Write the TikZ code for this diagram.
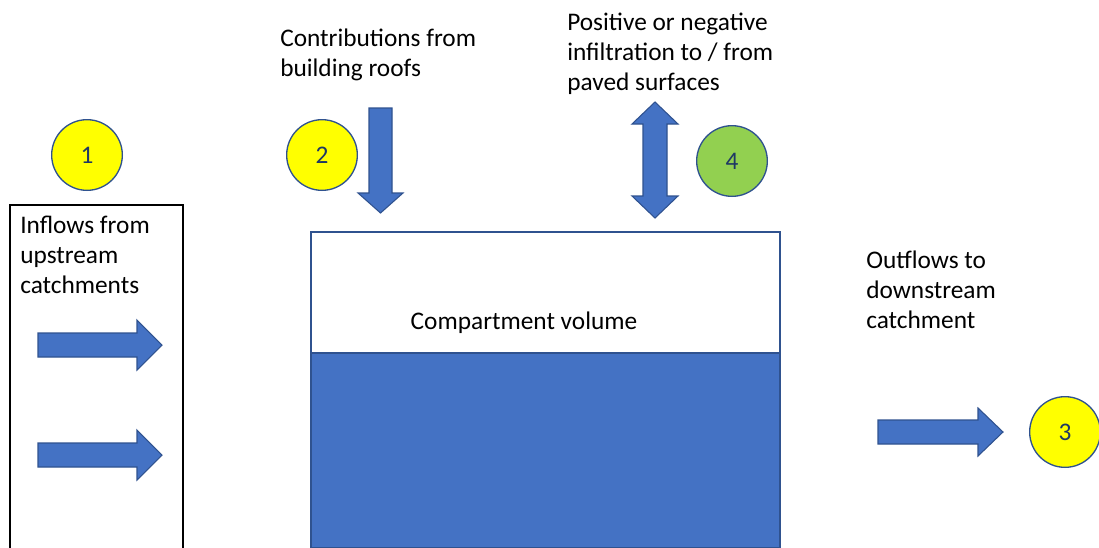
\documentclass[tikz,border=0pt]{standalone}
\usepackage{fontspec}
\setmainfont{Carlito}
\usepackage{xcolor}
\usetikzlibrary{positioning}
\definecolor{fillblue}{HTML}{4472C4}
\definecolor{edgeblue}{HTML}{2F528F}
\definecolor{numblue}{HTML}{1F3864}
\definecolor{leafgreen}{HTML}{92D050}
\definecolor{lemon}{HTML}{FFFF00}

\begin{document}
\begin{tikzpicture}[x=0.75pt, y=-0.75pt,
  every node/.style={font=\fontsize{19}{22.5}\selectfont},
  labeltext/.style={align=left, anchor=base west, inner sep=0pt},
  numcircle/.style={circle, draw=edgeblue, line width=1pt, minimum size=53pt,
    text=numblue, inner sep=0pt},
  blockarrow/.style={fill=fillblue, draw=edgeblue, line width=0.8pt, line join=miter}]
\useasboundingbox (0,0) rectangle (1099,547);

% Compartment
\filldraw[fill=white, draw=edgeblue, line width=1.2pt] (311,232) rectangle (780,353);
\filldraw[fill=fillblue, draw=edgeblue, line width=1.2pt] (311,353) rectangle (780,548);
\node[anchor=base, inner sep=0pt] (volume) at (524,329) {Compartment volume};

% Upstream catchments (base = last line)
\draw[line width=1.1pt] (10,548) -- (10,205) -- (183,205) -- (183,548);
\node[labeltext] (inflows) at (20,293) {Inflows from\\upstream\\catchments};
\draw[blockarrow] (38,333) -- (137,333) -- (137,320) -- (162,345)
  -- (137,370) -- (137,357) -- (38,357) -- cycle;
\draw[blockarrow] (38,443) -- (137,443) -- (137,430) -- (162,455)
  -- (137,480) -- (137,467) -- (38,467) -- cycle;
\node[numcircle, fill=lemon] (one) at (87,155) {1};

% Roofs
\node[labeltext] (roofs) at (280,76) {Contributions from\\building roofs};
\draw[blockarrow] (369,108) -- (392,108) -- (392,193) -- (403,193) -- (380.5,213)
  -- (358,193) -- (369,193) -- cycle;
\node[numcircle, fill=lemon] (two) at (322,155) {2};

% Paved surfaces
\node[labeltext] (paved) at (567,90) {Positive or negative\\infiltration to / from\\paved surfaces};
\draw[blockarrow] (655,102) -- (678,124) -- (667,124) -- (667,196) -- (678,196)
  -- (655,218) -- (632,196) -- (643,196) -- (643,124) -- (632,124) -- cycle;
\node[numcircle, fill=leafgreen] (four) at (732,161) {4};

% Downstream
\node[labeltext] (outflows) at (866,328) {Outflows to\\downstream\\catchment};
\draw[blockarrow] (878,420) -- (978,420) -- (978,408) -- (1003,432)
  -- (978,456) -- (978,444) -- (878,444) -- cycle;
\node[numcircle, fill=lemon] (three) at (1065,432) {3};
\end{tikzpicture}
\end{document}
